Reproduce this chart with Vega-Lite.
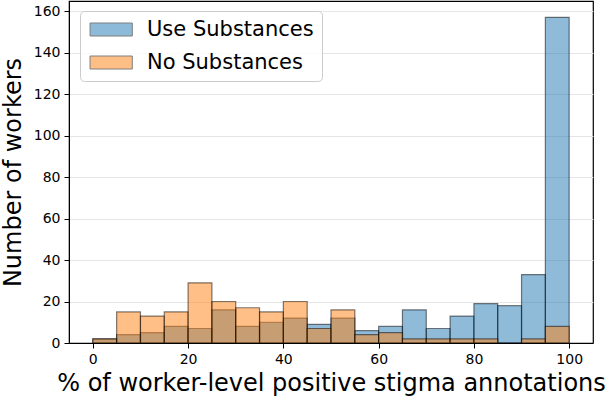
{
  "$schema": "https://vega.github.io/schema/vega-lite/v6.json",
  "width": 524,
  "height": 342,
  "autosize": {"type": "none"},
  "padding": {"left": 69, "top": 1, "right": 13, "bottom": 55},
  "config": {
    "font": "DejaVu Sans",
    "view": {"stroke": "#000000", "strokeWidth": 1.2},
    "axis": {
      "domainColor": "#000000",
      "tickColor": "#000000",
      "labelColor": "#000000",
      "titleColor": "#000000",
      "labelFontSize": 14,
      "titleFontSize": 24,
      "titleFontWeight": "normal",
      "tickSize": 5,
      "labelPadding": 4
    }
  },
  "data": {
    "values": [
      {"group": "Use Substances", "bin_start": 0, "bin_end": 5, "count": 2},
      {"group": "Use Substances", "bin_start": 5, "bin_end": 10, "count": 4},
      {"group": "Use Substances", "bin_start": 10, "bin_end": 15, "count": 5},
      {"group": "Use Substances", "bin_start": 15, "bin_end": 20, "count": 8},
      {"group": "Use Substances", "bin_start": 20, "bin_end": 25, "count": 7},
      {"group": "Use Substances", "bin_start": 25, "bin_end": 30, "count": 16},
      {"group": "Use Substances", "bin_start": 30, "bin_end": 35, "count": 8},
      {"group": "Use Substances", "bin_start": 35, "bin_end": 40, "count": 10},
      {"group": "Use Substances", "bin_start": 40, "bin_end": 45, "count": 12},
      {"group": "Use Substances", "bin_start": 45, "bin_end": 50, "count": 9},
      {"group": "Use Substances", "bin_start": 50, "bin_end": 55, "count": 12},
      {"group": "Use Substances", "bin_start": 55, "bin_end": 60, "count": 6},
      {"group": "Use Substances", "bin_start": 60, "bin_end": 65, "count": 8},
      {"group": "Use Substances", "bin_start": 65, "bin_end": 70, "count": 16},
      {"group": "Use Substances", "bin_start": 70, "bin_end": 75, "count": 7},
      {"group": "Use Substances", "bin_start": 75, "bin_end": 80, "count": 13},
      {"group": "Use Substances", "bin_start": 80, "bin_end": 85, "count": 19},
      {"group": "Use Substances", "bin_start": 85, "bin_end": 90, "count": 18},
      {"group": "Use Substances", "bin_start": 90, "bin_end": 95, "count": 33},
      {"group": "Use Substances", "bin_start": 95, "bin_end": 100, "count": 157},
      {"group": "No Substances", "bin_start": 0, "bin_end": 5, "count": 2},
      {"group": "No Substances", "bin_start": 5, "bin_end": 10, "count": 15},
      {"group": "No Substances", "bin_start": 10, "bin_end": 15, "count": 13},
      {"group": "No Substances", "bin_start": 15, "bin_end": 20, "count": 15},
      {"group": "No Substances", "bin_start": 20, "bin_end": 25, "count": 29},
      {"group": "No Substances", "bin_start": 25, "bin_end": 30, "count": 20},
      {"group": "No Substances", "bin_start": 30, "bin_end": 35, "count": 17},
      {"group": "No Substances", "bin_start": 35, "bin_end": 40, "count": 15},
      {"group": "No Substances", "bin_start": 40, "bin_end": 45, "count": 20},
      {"group": "No Substances", "bin_start": 45, "bin_end": 50, "count": 7},
      {"group": "No Substances", "bin_start": 50, "bin_end": 55, "count": 16},
      {"group": "No Substances", "bin_start": 55, "bin_end": 60, "count": 4},
      {"group": "No Substances", "bin_start": 60, "bin_end": 65, "count": 5},
      {"group": "No Substances", "bin_start": 65, "bin_end": 70, "count": 2},
      {"group": "No Substances", "bin_start": 70, "bin_end": 75, "count": 2},
      {"group": "No Substances", "bin_start": 75, "bin_end": 80, "count": 2},
      {"group": "No Substances", "bin_start": 80, "bin_end": 85, "count": 2},
      {"group": "No Substances", "bin_start": 85, "bin_end": 90, "count": 0},
      {"group": "No Substances", "bin_start": 90, "bin_end": 95, "count": 2},
      {"group": "No Substances", "bin_start": 95, "bin_end": 100, "count": 8}
    ]
  },
  "mark": {
    "type": "bar",
    "fillOpacity": 0.5,
    "stroke": "#000000",
    "strokeOpacity": 0.5,
    "strokeWidth": 1.2,
    "cornerRadius": 0
  },
  "encoding": {
    "x": {
      "field": "bin_start",
      "type": "quantitative",
      "scale": {"domain": [-5, 105], "nice": false, "zero": false},
      "axis": {
        "values": [0, 20, 40, 60, 80, 100],
        "grid": false,
        "title": "% of worker-level positive stigma annotations",
        "titlePadding": 5
      }
    },
    "x2": {"field": "bin_end"},
    "y": {
      "field": "count",
      "type": "quantitative",
      "scale": {"domain": [0, 164.85], "nice": false},
      "axis": {
        "values": [0, 20, 40, 60, 80, 100, 120, 140, 160],
        "grid": true,
        "gridColor": "#e6e6e6",
        "gridWidth": 1,
        "title": "Number of workers",
        "titlePadding": 8
      }
    },
    "y2": {"datum": 0},
    "color": {
      "field": "group",
      "type": "nominal",
      "scale": {
        "domain": ["Use Substances", "No Substances"],
        "range": ["#1f77b4", "#ff7f0e"]
      },
      "legend": {
        "title": null,
        "orient": "none",
        "legendX": 11,
        "legendY": 10,
        "symbolType": "M-1.3,-1H5.2V1H-1.3Z",
        "symbolSize": 169,
        "symbolOpacity": 0.5,
        "symbolStrokeColor": "#000000",
        "symbolStrokeWidth": 1,
        "labelFontSize": 21,
        "labelLimit": 400,
        "labelColor": "#000000",
        "labelOffset": 38,
        "rowPadding": 11,
        "padding": 8,
        "fillColor": "rgba(255,255,255,0.8)",
        "strokeColor": "#cccccc",
        "cornerRadius": 4
      }
    }
  }
}
